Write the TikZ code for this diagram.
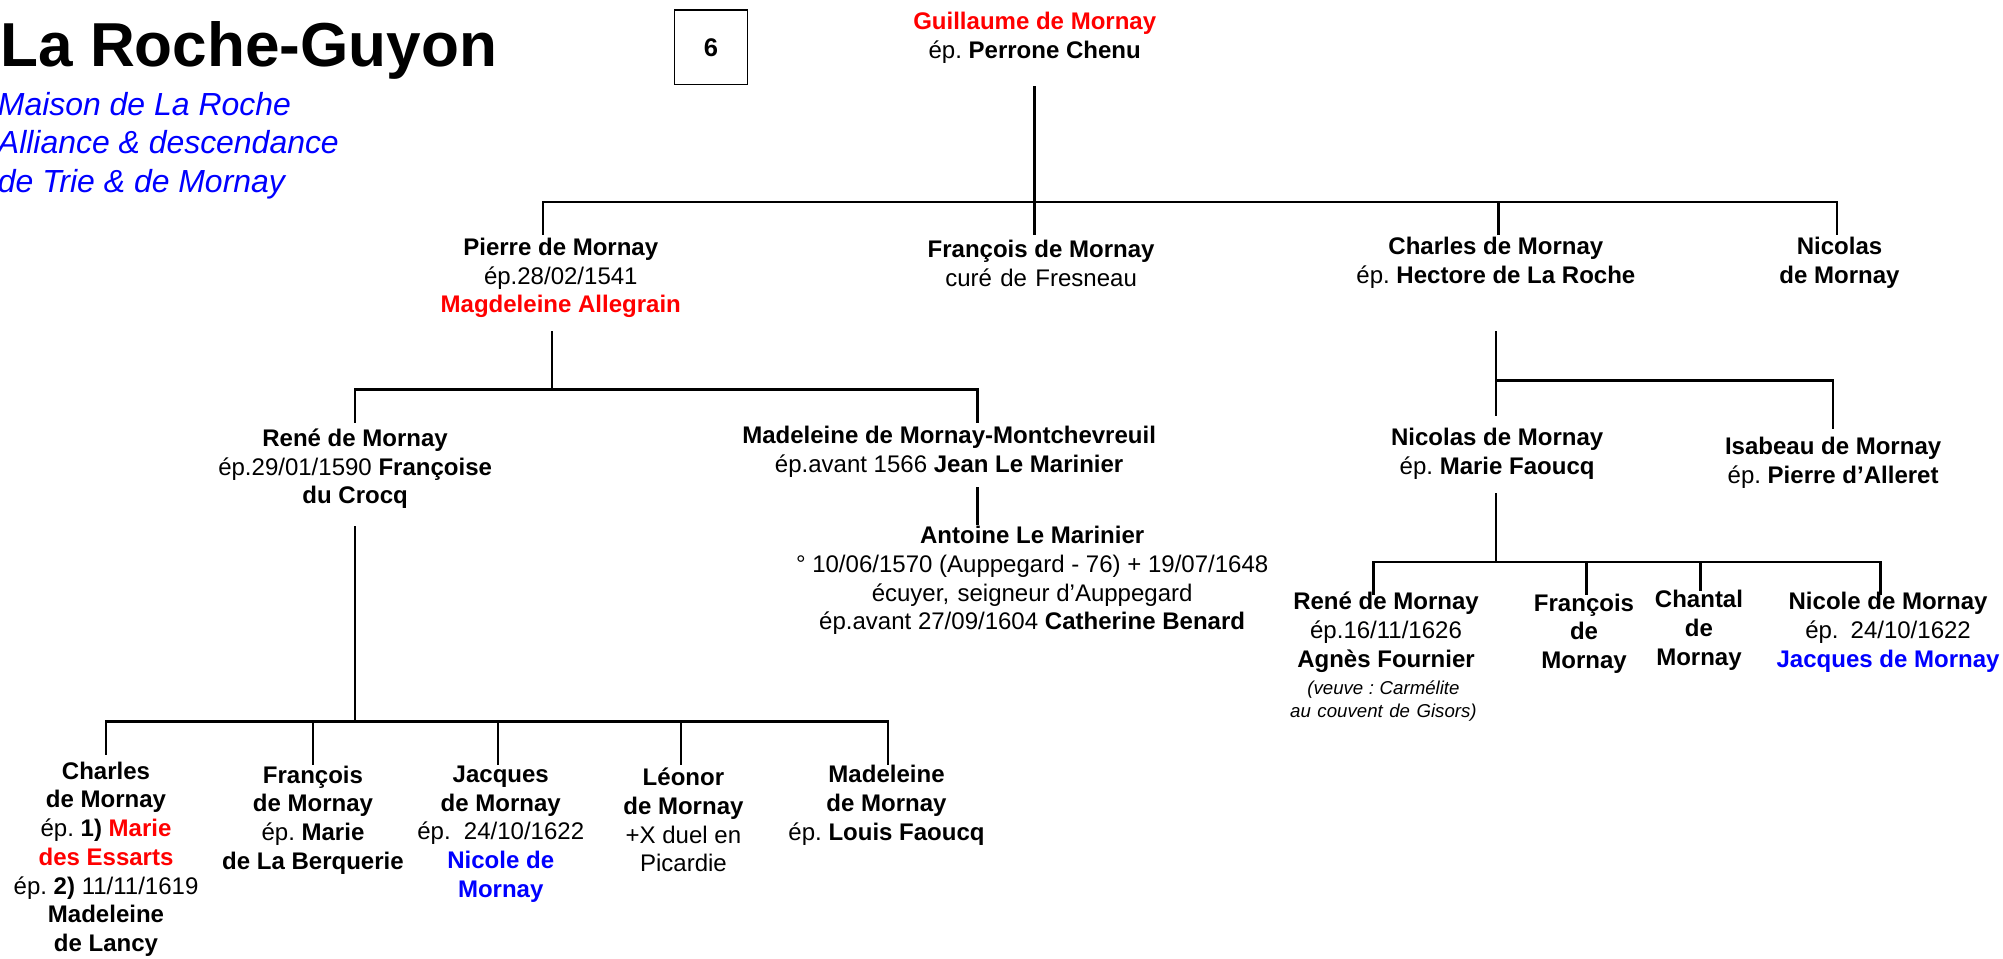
\documentclass[tikz,border=0pt]{standalone}
\usepackage{fontspec}
\setmainfont{Liberation Sans}
\definecolor{rd}{RGB}{255,0,0}
\definecolor{bl}{RGB}{0,0,255}
\tikzset{
  person/.style={align=center, inner sep=0pt, font=\fontsize{9.4}{11.25}\selectfont},
  notetext/.style={align=center, inner sep=0pt, font=\fontsize{7.3}{9}\selectfont\itshape},
  tree/.style={line width=1pt, line cap=rect},
}
\begin{document}
\frenchspacing
\begin{tikzpicture}[x=0.5pt,y=-0.5pt]
\useasboundingbox (0,0) rectangle (1568,750);

% title block
\node[anchor=base west, inner sep=0pt, font=\fontsize{24.3}{28}\selectfont\bfseries] (title) at (0,52) {La Roche-Guyon};
\node[anchor=north west, inner sep=0pt, align=left, text=bl, font=\fontsize{12.5}{15}\selectfont\itshape] (subtitle) at (-2,72)
  {Maison de La Roche\\Alliance \& descendance\\de Trie \& de Mornay};
\node[draw, line width=0.6pt, minimum width=28.5pt, minimum height=29pt, inner sep=0pt, font=\fontsize{10}{12}\selectfont\bfseries] (num) at (556.5,37) {6};

% generation 1
\node[person] (guil) at (810,29.5) {\textcolor{rd}{\textbf{Guillaume de Mornay}}\\ép. \textbf{Perrone Chenu}};

% generation 2
\node[person] (pierre) at (439,217.5) {\textbf{Pierre de Mornay}\\ép.28/02/1541\\\textcolor{rd}{\textbf{Magdeleine Allegrain}}};
\node[person] (francoisA) at (815,206) {\textbf{François de Mornay}\\curé\hspace{0.35em}de\hspace{0.35em}Fresneau};
\node[person] (charlesA) at (1171,206) {\textbf{Charles de Mornay}\\ép. \textbf{Hectore de La Roche}};
\node[person] (nicolasA) at (1440,206) {\textbf{Nicolas}\\\textbf{de Mornay}};

% generation 3
\node[person] (reneA) at (278,367) {\textbf{René de Mornay}\\ép.29/01/1590 \textbf{Françoise}\\\textbf{du Crocq}};
\node[person] (madeleineA) at (743,353.5) {\textbf{Madeleine de Mornay-Montchevreuil}\\ép.avant 1566 \textbf{Jean Le Marinier}};
\node[person] (antoine) at (808,454.5) {\textbf{Antoine Le Marinier}\\° 10/06/1570 (Auppegard - 76) + 19/07/1648\\écuyer,\hspace{0.35em}seigneur d’Auppegard\\ép.avant 27/09/1604 \textbf{Catherine Benard}};
\node[person] (nicolasB) at (1172,355.5) {\textbf{Nicolas de Mornay}\\ép. \textbf{Marie Faoucq}};
\node[person] (isabeau) at (1435,362) {\textbf{Isabeau de Mornay}\\ép. \textbf{Pierre d’Alleret}};

% generation 4 (left)
\node[person] (charlesB) at (83,672.5) {\textbf{Charles}\\\textbf{de Mornay}\\ép. \textbf{1)} \textcolor{rd}{\textbf{Marie}}\\\textcolor{rd}{\textbf{des Essarts}}\\ép. \textbf{2)} 11/11/1619\\\textbf{Madeleine}\\\textbf{de Lancy}};
\node[person] (francoisB) at (245,642) {\textbf{François}\\\textbf{de Mornay}\\ép. \textbf{Marie}\\\textbf{de La Berquerie}};
\node[person] (jacques) at (392,653) {\textbf{Jacques}\\\textbf{de Mornay}\\ép.\hspace{0.55em}24/10/1622\\\textcolor{bl}{\textbf{Nicole de}}\\\textcolor{bl}{\textbf{Mornay}}};
\node[person] (leonor) at (535,642) {\textbf{Léonor}\\\textbf{de Mornay}\\+X duel en\\Picardie};
\node[person] (madeleineB) at (694,630.5) {\textbf{Madeleine}\\\textbf{de Mornay}\\ép. \textbf{Louis Faoucq}};

% generation 4 (right)
\node[person] (reneB) at (1085,495) {\textbf{René de Mornay}\\ép.16/11/1626\\\textbf{Agnès Fournier}};
\node[notetext] (reneBnote) at (1083,549) {(veuve\hspace{0.3em}:\hspace{0.3em}Carmélite\\au\hspace{0.35em}couvent\hspace{0.35em}de\hspace{0.35em}Gisors)};
\node[person] (francoisC) at (1240,496) {\textbf{François}\\\textbf{de}\\\textbf{Mornay}};
\node[person] (chantal) at (1330,493.5) {\textbf{Chantal}\\\textbf{de}\\\textbf{Mornay}};
\node[person] (nicole) at (1478,495) {\textbf{Nicole de Mornay}\\ép.\hspace{0.5em}24/10/1622\\\textcolor{bl}{\textbf{Jacques de Mornay}}};

% junction coordinates
\coordinate (gTop) at (810,68);
\coordinate (gDrop) at (810,183);
\coordinate (busAL) at (425,158);
\coordinate (busAR) at (1438,158);
\coordinate (dPierre) at (425,183);
\coordinate (bCharles) at (1173,158);
\coordinate (dCharles) at (1173,183);
\coordinate (dNicolas) at (1438,183);

\coordinate (pTop) at (432,260);
\coordinate (pBus) at (432,305);
\coordinate (busBL) at (278,305);
\coordinate (busBR) at (765,305);
\coordinate (dRene) at (278,330);
\coordinate (dMadeleine) at (765,330);
\coordinate (mTop) at (765,382);
\coordinate (mBot) at (765,410);

\coordinate (rTop) at (278,413);
\coordinate (rBus) at (278,565);
\coordinate (busCL) at (83,565);
\coordinate (busCR) at (695,565);
\coordinate (bFrancois) at (245,565);
\coordinate (bJacques) at (390,565);
\coordinate (bLeonor) at (533,565);
\coordinate (dCharlesB) at (83,590);
\coordinate (dFrancoisB) at (245,598);
\coordinate (dJacques) at (390,598);
\coordinate (dLeonor) at (533,598);
\coordinate (dMadeleineB) at (695,598);

\coordinate (cTop) at (1171,260);
\coordinate (cBus) at (1171,298);
\coordinate (dNicolasB) at (1171,325);
\coordinate (busDR) at (1435,298);
\coordinate (dIsabeau) at (1435,335);

\coordinate (nTop) at (1171,387);
\coordinate (nBus) at (1171,440);
\coordinate (busEL) at (1075,440);
\coordinate (busER) at (1472,440);
\coordinate (bFrancoisC) at (1242,440);
\coordinate (bChantal) at (1331,440);
\coordinate (dReneB) at (1075,465);
\coordinate (dFrancoisC) at (1242,465);
\coordinate (dChantal) at (1331,462);
\coordinate (dNicole) at (1472,465);

% connectors
\draw[tree] (gTop) -- (gDrop);
\draw[tree] (dPierre) -- (busAL) -- (busAR) -- (dNicolas);
\draw[tree] (bCharles) -- (dCharles);

\draw[tree] (pTop) -- (pBus);
\draw[tree] (dRene) -- (busBL) -- (busBR) -- (dMadeleine);
\draw[tree] (mTop) -- (mBot);

\draw[tree] (rTop) -- (rBus);
\draw[tree] (dCharlesB) -- (busCL) -- (busCR) -- (dMadeleineB);
\draw[tree] (bFrancois) -- (dFrancoisB);
\draw[tree] (bJacques) -- (dJacques);
\draw[tree] (bLeonor) -- (dLeonor);

\draw[tree] (cTop) -- (dNicolasB);
\draw[tree] (cBus) -- (busDR) -- (dIsabeau);

\draw[tree] (nTop) -- (nBus);
\draw[tree] (dReneB) -- (busEL) -- (busER) -- (dNicole);
\draw[tree] (bFrancoisC) -- (dFrancoisC);
\draw[tree] (bChantal) -- (dChantal);
\end{tikzpicture}
\end{document}
